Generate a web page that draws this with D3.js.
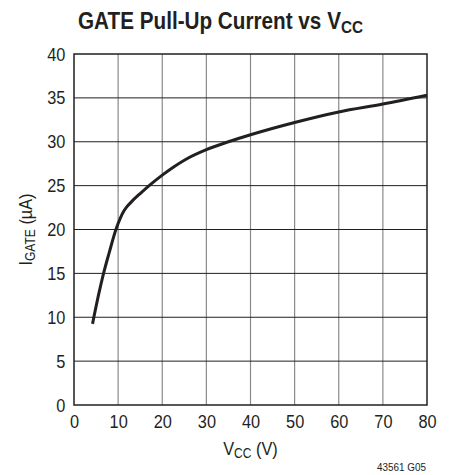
<!DOCTYPE html>
<html><head><meta charset="utf-8">
<script src="https://cdn.jsdelivr.net/npm/d3@7"></script>
<style>
body{margin:0;background:#fff;}
text{font-family:"Liberation Sans",Arial,sans-serif;fill:#231f20;}
</style></head>
<body><div id="chart"></div>
<script>
const vcc = [4.2, 5.5, 6.7, 8, 9.5, 10.5, 11.3, 12, 13, 15, 17.5, 20, 22.5, 25, 30, 35, 40, 50, 60, 70, 80];
const igate = [9.25, 12.4, 15, 17.4, 20, 21.3, 22.1, 22.6, 23.15, 24.1, 25.2, 26.2, 27.1, 27.9, 29.1, 30.0, 30.8, 32.2, 33.4, 34.3, 35.3];
const xTicks = [0, 10, 20, 30, 40, 50, 60, 70, 80];
const yTicks = [0, 5, 10, 15, 20, 25, 30, 35, 40];

const W = 451, H = 475;
const m = {l: 74, r: 24, t: 54, b: 70};
const SX = 0.86;
const svg = d3.select("#chart").append("svg").attr("width", W).attr("height", H);
const x = d3.scaleLinear().domain([0, 80]).range([m.l, W - m.r]);
const y = d3.scaleLinear().domain([0, 40]).range([H - m.b, m.t]);

// grid
svg.append("g").selectAll("line").data(xTicks.slice(1, -1)).join("line")
  .attr("x1", d => x(d)).attr("x2", d => x(d)).attr("y1", y(0)).attr("y2", y(40))
  .attr("stroke", "#8a8a8a").attr("stroke-width", 1.2);
svg.append("g").selectAll("line").data(yTicks.slice(1, -1)).join("line")
  .attr("y1", d => y(d)).attr("y2", d => y(d)).attr("x1", x(0)).attr("x2", x(80))
  .attr("stroke", "#231f20").attr("stroke-width", 1);
svg.append("rect").attr("x", x(0)).attr("y", y(40)).attr("width", x(80) - x(0)).attr("height", y(0) - y(40))
  .attr("fill", "none").attr("stroke", "#231f20").attr("stroke-width", 1.5);

// axes labels via d3 axes
const xa = svg.append("g").attr("transform", `translate(0,${y(0)})`)
  .call(d3.axisBottom(x).tickValues(xTicks).tickSize(0).tickPadding(10));
const ya = svg.append("g").attr("transform", `translate(${x(0)},0)`)
  .call(d3.axisLeft(y).tickValues(yTicks).tickSize(0).tickPadding(10));
[xa, ya].forEach(a => {
  a.select(".domain").remove();
  a.selectAll("text").attr("font-size", 19).attr("fill", "#231f20")
    .attr("transform", `scale(${SX},1)`)
    .style("font-family", '"Liberation Sans",Arial,sans-serif');
});

// curve
svg.append("path").datum(vcc.map((v, i) => [v, igate[i]]))
  .attr("d", d3.line().x(d => x(d[0])).y(d => y(d[1])).curve(d3.curveMonotoneX))
  .attr("fill", "none").attr("stroke", "#231f20").attr("stroke-width", 3).attr("stroke-linecap", "butt");

// title
const t = svg.append("text").attr("transform", "translate(78,29) scale(0.9,1)").attr("font-size", 23).attr("font-weight", "bold");
t.append("tspan").text("GATE Pull-Up Current vs V");
t.append("tspan").text("CC").attr("font-size", 17).attr("dy", 4);

// x title
const xt = svg.append("text").attr("transform", `translate(${x(40)},455) scale(${SX},1)`).attr("text-anchor", "middle").attr("font-size", 19);
xt.append("tspan").text("V");
xt.append("tspan").text("CC").attr("font-size", 14).attr("dy", 3);
xt.append("tspan").text(" (V)").attr("dy", -3);

// y title
const yt = svg.append("text").attr("transform", `translate(32,${y(20)}) rotate(-90) scale(${SX},1)`).attr("text-anchor", "middle").attr("font-size", 19);
yt.append("tspan").text("I");
yt.append("tspan").text("GATE").attr("font-size", 14).attr("dy", 3);
yt.append("tspan").text(" (µA)").attr("dy", -3);

svg.append("text").attr("transform", "translate(426,471) scale(0.9,1)").attr("text-anchor", "end").attr("font-size", 11).text("43561 G05");
</script></body></html>
